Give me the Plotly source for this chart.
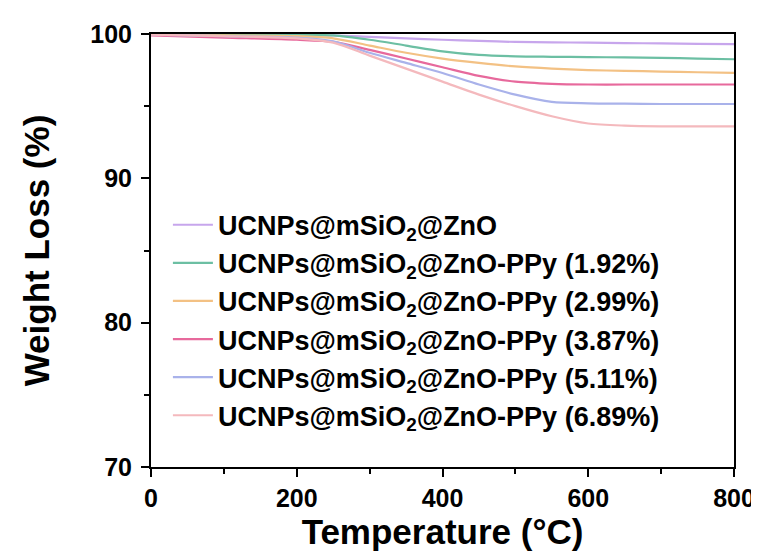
import plotly.graph_objects as go

temps = [0, 100, 200, 250, 300, 350, 400, 450, 500, 550, 600, 650, 700, 750, 800]

names = [
    "UCNPs@mSiO<sub>2</sub>@ZnO",
    "UCNPs@mSiO<sub>2</sub>@ZnO-PPy (1.92%)",
    "UCNPs@mSiO<sub>2</sub>@ZnO-PPy (2.99%)",
    "UCNPs@mSiO<sub>2</sub>@ZnO-PPy (3.87%)",
    "UCNPs@mSiO<sub>2</sub>@ZnO-PPy (5.11%)",
    "UCNPs@mSiO<sub>2</sub>@ZnO-PPy (6.89%)",
]

w_zno   = [100.0, 99.97, 99.93, 99.90, 99.80, 99.70, 99.60, 99.52, 99.45, 99.42, 99.40, 99.37, 99.35, 99.32, 99.30]
w_1_92  = [100.0, 99.98, 99.95, 99.90, 99.60, 99.20, 98.80, 98.55, 98.45, 98.42, 98.40, 98.38, 98.35, 98.30, 98.25]
w_2_99  = [99.95, 99.90, 99.85, 99.70, 99.20, 98.70, 98.30, 98.00, 97.75, 97.60, 97.50, 97.45, 97.40, 97.35, 97.30]
w_3_87  = [99.90, 99.75, 99.60, 99.45, 98.90, 98.30, 97.70, 97.10, 96.70, 96.55, 96.50, 96.50, 96.50, 96.50, 96.50]
w_5_11  = [99.95, 99.85, 99.75, 99.50, 98.70, 98.00, 97.30, 96.50, 95.80, 95.30, 95.20, 95.17, 95.15, 95.15, 95.15]
w_6_89  = [99.95, 99.85, 99.70, 99.40, 98.50, 97.60, 96.70, 95.80, 95.00, 94.30, 93.80, 93.65, 93.60, 93.60, 93.60]

series = [w_zno, w_1_92, w_2_99, w_3_87, w_5_11, w_6_89]
colors = ["#c7a6ec", "#6cbfa3", "#f3c184", "#e7699c", "#a9b2ea", "#f4b9bd"]

font_family = "Arial, Liberation Sans, sans-serif"

fig = go.Figure()
for name, ys, c in zip(names, series, colors):
    fig.add_trace(go.Scatter(x=temps, y=ys, name=name, mode="lines",
                             line=dict(color=c, width=2.2, shape="spline", smoothing=0.8)))

fig.update_layout(
    width=759, height=552,
    margin=dict(l=143, r=30, t=24, b=93),
    paper_bgcolor="white", plot_bgcolor="white",
    font=dict(family=font_family, color="black", size=18),
    legend=dict(x=0.029, y=0.615, xanchor="left", yanchor="top",
                bgcolor="rgba(0,0,0,0)", tracegroupgap=0,
                font=dict(size=27, family=font_family, color="black", weight="bold"),
                itemwidth=40),
    showlegend=True,
)
fig.update_xaxes(
    range=[0, 800], tickvals=[0, 200, 400, 600, 800],
    showline=True, linecolor="black", linewidth=2, mirror=True,
    ticks="outside", ticklen=8, tickwidth=2, tickcolor="black",
    minor=dict(tickvals=[100, 300, 500, 700], ticks="outside", ticklen=5, tickwidth=2, tickcolor="black"),
    showgrid=False, zeroline=False,
    tickfont=dict(size=25, family=font_family, weight="bold"),
    title=dict(text="Temperature (°C)", font=dict(size=35, family=font_family, weight="bold"), standoff=6),
)
fig.update_yaxes(
    range=[70, 100], tickvals=[70, 80, 90, 100],
    showline=True, linecolor="black", linewidth=2, mirror=True,
    ticks="outside", ticklen=8, tickwidth=2, tickcolor="black",
    minor=dict(tickvals=[75, 85, 95], ticks="outside", ticklen=5, tickwidth=2, tickcolor="black"),
    showgrid=False, zeroline=False,
    ticklabelstandoff=4,
    tickfont=dict(size=25, family=font_family, weight="bold"),
    title=dict(text="Weight Loss (%)", font=dict(size=35, family=font_family, weight="bold"), standoff=30),
)

fig.write_html("out.html")
